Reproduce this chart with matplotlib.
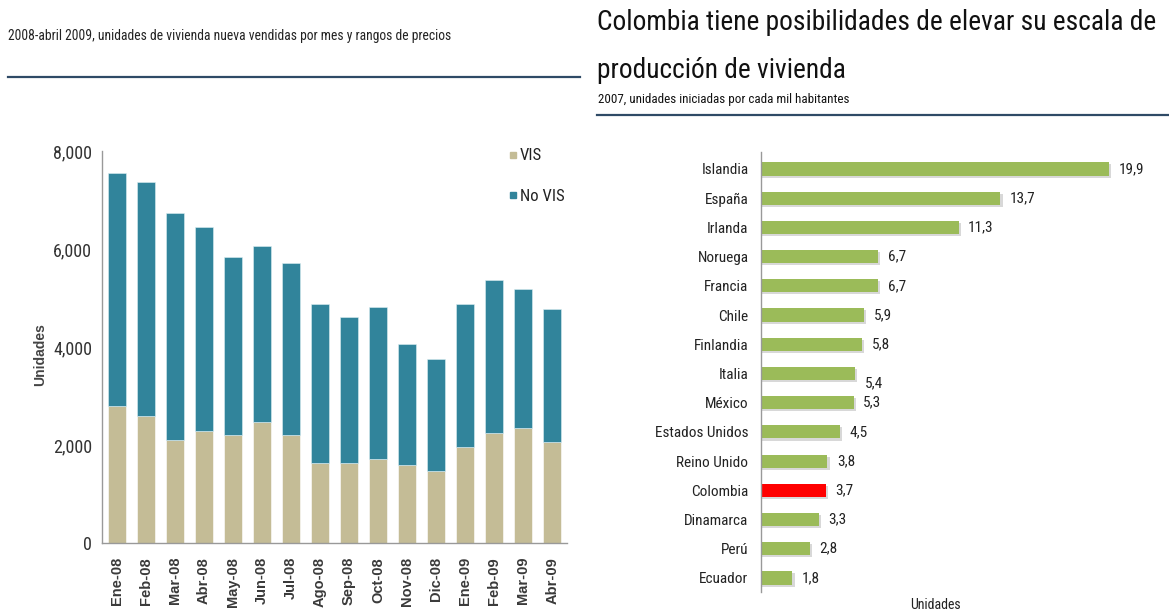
import matplotlib
matplotlib.use("Agg")
import matplotlib.pyplot as plt
from matplotlib.lines import Line2D
from matplotlib import font_manager as fm

# ---------------- find a narrow / condensed face if any ----------------
def find_face(weight_bold=False):
    cands = []
    for f in fm.fontManager.ttflist:
        nm = (f.name + " " + f.fname).lower()
        if ("narrow" in nm or "condensed" in nm or f.stretch in ("condensed", "semi-condensed", "extra-condensed")) \
                and "italic" not in nm and "oblique" not in nm:
            isbold = ("bold" in f.fname.lower()) or (f.weight in ("bold", 700))
            if isbold == weight_bold and "light" not in f.fname.lower() and "black" not in f.fname.lower():
                pri = 0 if "liberation" in nm or "arial" in nm else (1 if "roboto" in nm else (2 if "open" in nm else 3))
                cands.append((pri, f.fname))
    cands.sort()
    return cands[0][1] if cands else None

narrow_path = find_face(False)

def nf(size):
    if narrow_path:
        return dict(fontproperties=fm.FontProperties(fname=narrow_path, size=size))
    return dict(fontfamily=["Liberation Sans", "DejaVu Sans"], fontsize=size * 0.85)

# ---------------- data ----------------
months = ["Ene-08", "Feb-08", "Mar-08", "Abr-08", "May-08", "Jun-08", "Jul-08", "Ago-08",
          "Sep-08", "Oct-08", "Nov-08", "Dic-08", "Ene-09", "Feb-09", "Mar-09", "Abr-09"]
vis = [2800, 2590, 2100, 2290, 2200, 2470, 2200, 1630, 1630, 1710, 1590, 1470, 1960, 2240, 2350, 2060]
total = [7550, 7370, 6730, 6450, 5840, 6060, 5710, 4880, 4610, 4820, 4060, 3750, 4880, 5370, 5180, 4780]
no_vis = [t - v for t, v in zip(total, vis)]
yticks_left = [0, 2000, 4000, 6000, 8000]

countries = ["Islandia", "España", "Irlanda", "Noruega", "Francia", "Chile", "Finlandia", "Italia",
             "México", "Estados Unidos", "Reino Unido", "Colombia", "Dinamarca", "Perú", "Ecuador"]
units = [19.9, 13.7, 11.3, 6.7, 6.7, 5.9, 5.8, 5.4, 5.3, 4.5, 3.8, 3.7, 3.3, 2.8, 1.8]
highlight = "Colombia"

W, H = 1169, 613
fig = plt.figure(figsize=(W / 100, H / 100), dpi=100)

def px_axes(x0, y0, x1, y1):
    return fig.add_axes([x0 / W, 1 - y1 / H, (x1 - x0) / W, (y1 - y0) / H])

# ---------------- header texts / rules ----------------
fig.text(8 / W, 1 - 36 / H, "2008-abril 2009, unidades de vivienda nueva vendidas por mes y rangos de precios",
         color="#222222", va="center", ha="left", **nf(9.8))
fig.add_artist(Line2D([8 / W, 580 / W], [1 - 77 / H, 1 - 77 / H], color="#2F4A66", lw=1.6))

title_kw = nf(19.7) if narrow_path else dict(fontsize=17.5)
fig.text(597 / W, 1 - 23 / H, "Colombia tiene posibilidades de elevar su escala de",
         color="#111111", va="center", ha="left", **title_kw)
fig.text(597 / W, 1 - 70 / H, "producción de vivienda",
         color="#111111", va="center", ha="left", **title_kw)
fig.text(598 / W, 1 - 100 / H, "2007, unidades iniciadas por cada mil habitantes",
         color="#111111", va="center", ha="left", **nf(9.4))
fig.add_artist(Line2D([597 / W, 1169 / W], [1 - 115 / H, 1 - 115 / H], color="#2F4A66", lw=1.6))

# ---------------- left chart ----------------
ax = px_axes(102, 151, 567, 543)
x = list(range(len(months)))
c_vis = "#C4BC96"
c_novis = "#31849B"
ax.bar(x, vis, width=0.62, color=c_vis, edgecolor="white", linewidth=0.4)
ax.bar(x, no_vis, bottom=vis, width=0.62, color=c_novis, edgecolor="#DDEEF2", linewidth=0.4)
ax.set_xlim(-0.5, len(months) - 0.5)
ax.set_ylim(0, 8000)
ax.set_yticks(yticks_left)
ax.set_yticklabels([f"{v:,}" for v in yticks_left], color="#333333", **nf(13))
ax.set_xticks(x)
ax.set_xticklabels(months, rotation=90, fontsize=10.5, color="#3A3A3A",
                   fontfamily=["Liberation Sans", "DejaVu Sans"], fontweight="bold", va="top")
ax.tick_params(axis="both", length=0)
ax.tick_params(axis="y", pad=7)
ax.tick_params(axis="x", pad=10)
for s in ["top", "right"]:
    ax.spines[s].set_visible(False)
for s in ["left", "bottom"]:
    ax.spines[s].set_color("#999999")
    ax.spines[s].set_linewidth(1.0)
ax.set_ylabel("Unidades", fontsize=10, color="#444444", fontweight="bold",
              fontfamily=["Liberation Sans", "DejaVu Sans"])
ax.yaxis.set_label_coords((47 - 102) / (567 - 102), 0.48)
handles = [Line2D([], [], marker="s", ls="", color=c_vis, markersize=5),
           Line2D([], [], marker="s", ls="", color=c_novis, markersize=5)]
leg_prop = nf(12)["fontproperties"] if narrow_path else {"size": 10.5, "family": ["Liberation Sans"]}
leg = ax.legend(handles, ["VIS", "No VIS"], loc="upper left", bbox_to_anchor=(0.838, 1.045),
                frameon=False, labelspacing=1.55, handletextpad=0.0, handlelength=0.8, prop=leg_prop)
for t in leg.get_texts():
    t.set_color("#222222")

# ---------------- right chart ----------------
ax2 = px_axes(761, 152, 1163, 592)
y = list(range(len(countries)))
colors = ["#FF0000" if c == highlight else "#9BBB59" for c in countries]
ax2.barh([v + 0.07 for v in y], [u + 0.12 for u in units], height=0.45, color="#D8D8D8",
         left=0, zorder=1)
ax2.barh(y, units, height=0.45, color=colors, zorder=2)
for yi, (c, u) in enumerate(zip(countries, units)):
    dy = 0.35 if c == "Italia" else 0.0
    ax2.text(u + 0.55, yi + dy, f"{u:.1f}".replace(".", ","), va="center", ha="left",
             color="#222222", **nf(11))
ax2.set_xlim(0, 23)
ax2.set_ylim(len(countries) - 0.52, -0.58)
ax2.set_yticks(y)
ax2.set_yticklabels(countries, color="#222222", **nf(11))
ax2.tick_params(axis="y", length=0, pad=9)
ax2.set_xticks([])
for s in ["top", "right", "bottom"]:
    ax2.spines[s].set_visible(False)
ax2.spines["left"].set_color("#999999")
ax2.spines["left"].set_linewidth(1.0)
fig.text(935 / W, 1 - 605 / H, "Unidades", color="#222222", ha="center", va="center", **nf(10))

fig.savefig("out.png", dpi=100, facecolor="white")
